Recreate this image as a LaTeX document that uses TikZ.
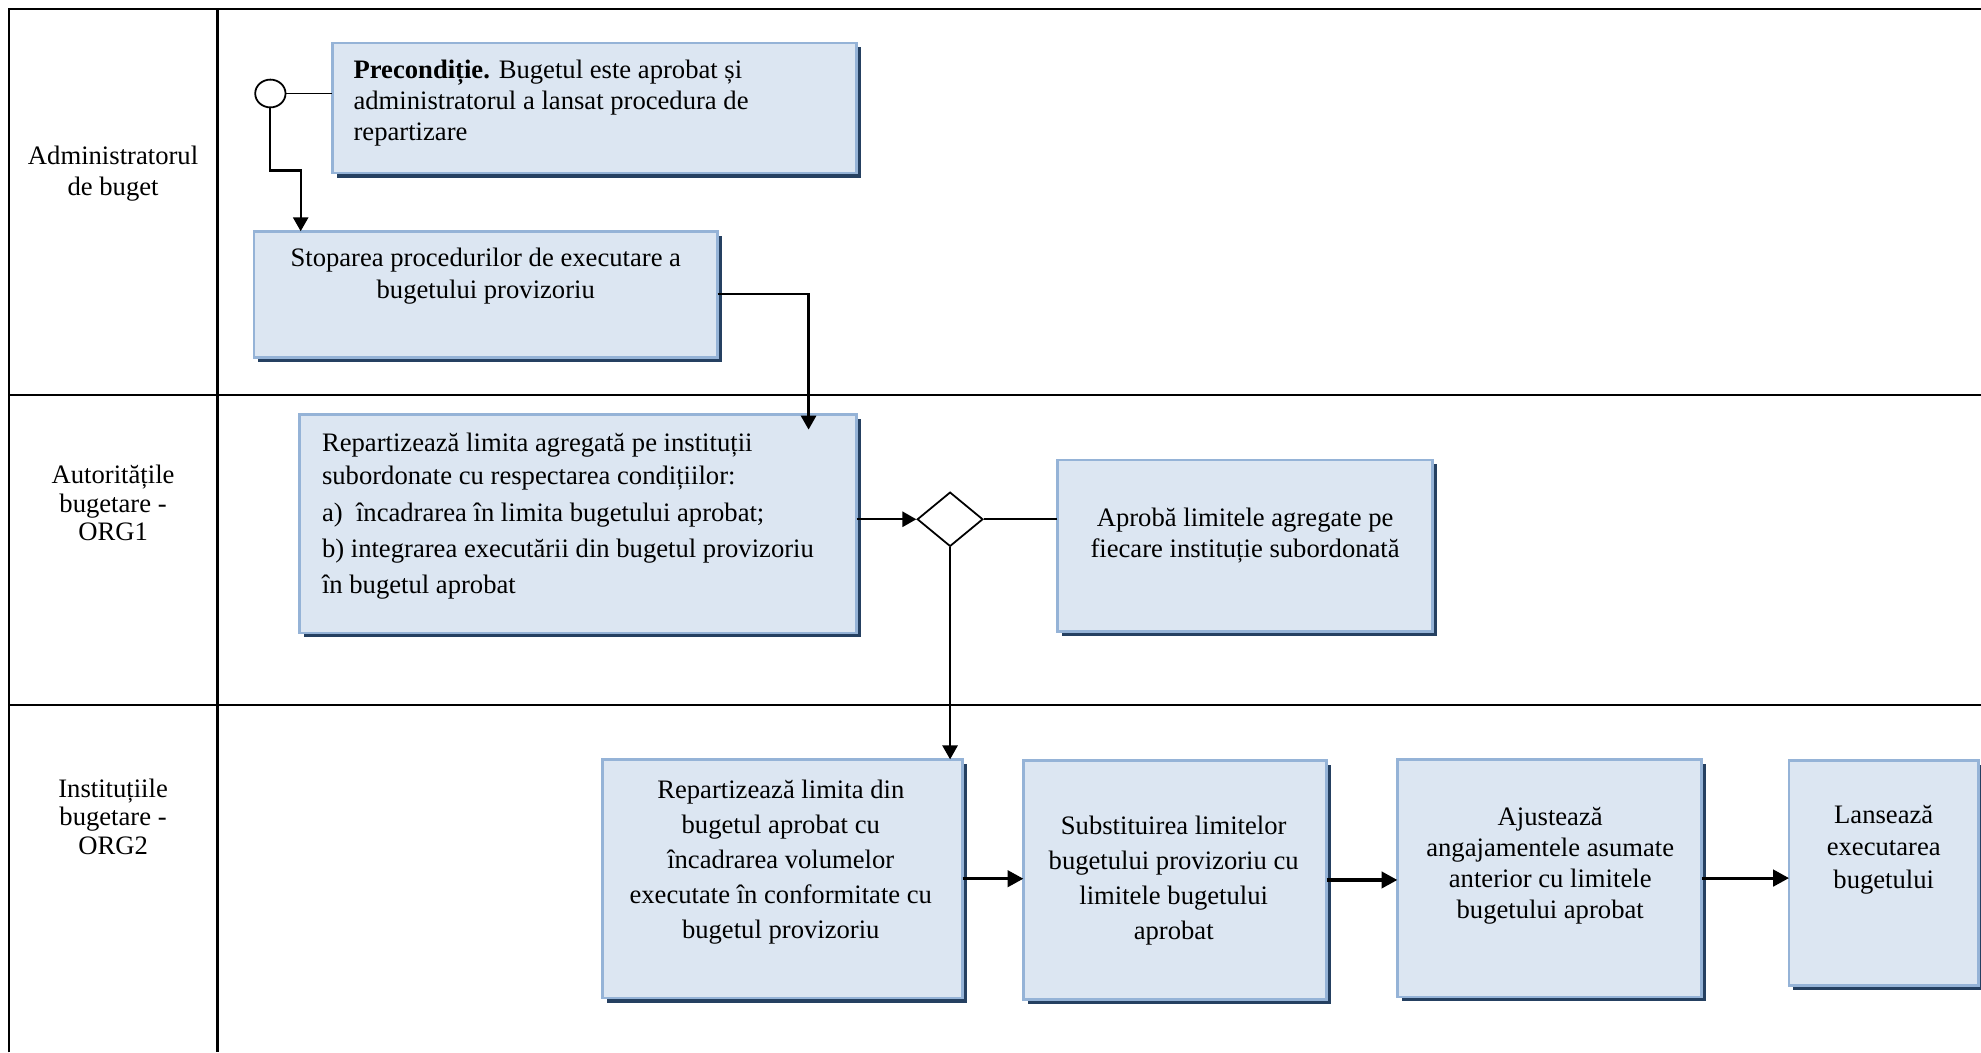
\documentclass[tikz,border=0pt]{standalone}
\usepackage{fontspec}
\setmainfont{Liberation Serif}
\usetikzlibrary{arrows.meta,shapes.geometric,shadows,positioning,calc}

\definecolor{boxfill}{HTML}{DCE6F2}
\definecolor{boxborder}{HTML}{95B3D7}
\definecolor{boxshadow}{HTML}{254061}
\newcommand{\unitpx}{0.02cm}

\begin{document}
\begin{tikzpicture}[
  x=0.02cm, y=-0.02cm,
  >={Triangle[length=0.22cm,width=0.24cm]},
  line width=1pt,
  lane/.style={line width=1.1pt},
  taskbox/.style={rectangle, draw=boxborder, line width=1.2pt, fill=boxfill, inner sep=0pt, outer sep=0pt,
    drop shadow={shadow xshift=0.07cm, shadow yshift=-0.07cm, fill=boxshadow, opacity=1}},
  tasktext/.style={inner sep=0pt, align=center},
  lanelabel/.style={inner sep=0pt, align=center, font=\fontsize{12}{12.8}\selectfont},
  gateway/.style={diamond, draw, line width=0.8pt, fill=white, inner sep=0pt, minimum width=52*\unitpx, minimum height=43*\unitpx},
  startevent/.style={ellipse, draw, line width=0.8pt, fill=white, inner sep=0pt, minimum width=24*\unitpx, minimum height=22*\unitpx},
  flow/.style={->, line width=1pt},
  bigflow/.style={-{Triangle[length=0.25cm,width=0.26cm]}, line width=1.4pt}
]
\useasboundingbox (0,0) rectangle (1568,833);

% swimlanes
\draw[lane] (7,833) -- (7,7) -- (1568,7);
\draw[lane] (172,7) -- (172,833);
\draw[lane] (7,312.5) -- (1568,312.5);
\draw[lane] (7,558) -- (1568,558);

\node[lanelabel, font=\fontsize{12}{14.2}\selectfont, anchor=base] (lbladm) at (89.5,155) {Administratorul\\de buget};
\node[lanelabel, anchor=base] (lblorg1) at (89.5,428) {Autoritățile\\bugetare -\\ORG1};
\node[lanelabel, anchor=base] (lblorg2) at (89.5,676) {Instituțiile\\bugetare -\\ORG2};

% lane 1
\node[taskbox, minimum width=415*\unitpx, minimum height=103*\unitpx] (precond) at (470.5,85.5) {};
\node[tasktext, align=left, font=\fontsize{12}{13.9}\selectfont, anchor=base west] (precondtxt) at (279,111)
  {\textbf{Precondiție.} Bugetul este aprobat și\\administratorul a lansat procedura de\\repartizare};
\node[startevent] (start) at (214,74) {};

\node[taskbox, minimum width=367*\unitpx, minimum height=100*\unitpx] (stop) at (384.5,233) {};
\node[tasktext, font=\fontsize{12}{14.2}\selectfont, anchor=base] (stoptxt) at (384.5,236)
  {Stoparea procedurilor de executare a\\bugetului provizoriu};

% lane 2
\node[taskbox, minimum width=441*\unitpx, minimum height=173*\unitpx] (distrib) at (457.5,414.5) {};
\node[tasktext, align=left, font=\fontsize{12}{14.7}\selectfont, anchor=base west] (distribtxt) at (254,470)
  {Repartizează limita agregată pe instituții\\subordonate cu respectarea condițiilor:\\[1.7pt]
   a)\ \ încadrarea în limita bugetului aprobat;\\[1.7pt]
   b) integrarea executării din bugetul provizoriu\\[1.7pt]
   în bugetul aprobat};

\node[gateway] (gate) at (752,411) {};

\node[taskbox, minimum width=297*\unitpx, minimum height=136*\unitpx] (approve) at (985.5,432) {};
\node[tasktext, font=\fontsize{12}{13.6}\selectfont, anchor=base] (approvetxt) at (985.5,441)
  {Aprobă limitele agregate pe\\fiecare instituție subordonată};

% lane 3
\node[taskbox, minimum width=285*\unitpx, minimum height=189*\unitpx] (redistrib) at (619.5,695.5) {};
\node[tasktext, font=\fontsize{12}{15.8}\selectfont, anchor=base] (redistribtxt) at (618,743)
  {Repartizează limita din\\bugetul aprobat cu\\încadrarea volumelor\\executate în conformitate cu\\bugetul provizoriu};

\node[taskbox, minimum width=240*\unitpx, minimum height=189*\unitpx] (substit) at (930,696.5) {};
\node[tasktext, font=\fontsize{12}{15.9}\selectfont, anchor=base] (substittxt) at (929,744)
  {Substituirea limitelor\\bugetului provizoriu cu\\limitele bugetului\\aprobat};

\node[taskbox, minimum width=241*\unitpx, minimum height=188*\unitpx] (adjust) at (1226.5,695) {};
\node[tasktext, font=\fontsize{12}{14}\selectfont, anchor=base] (adjusttxt) at (1227,727)
  {Ajustează\\angajamentele asumate\\anterior cu limitele\\bugetului aprobat};

\node[taskbox, minimum width=150*\unitpx, minimum height=178*\unitpx] (launch) at (1491,691) {};
\node[tasktext, font=\fontsize{12}{14.5}\selectfont, anchor=base] (launchtxt) at (1491,703)
  {Lansează\\executarea\\bugetului};

% connectors
\coordinate (bend1) at (238,135);
\draw[line width=0.6pt] (start.east) -- (start.east -| precond.west);
\draw[flow] (start.south) |- (bend1) -- (bend1 |- stop.north);
\draw[flow] (stop.east) -| ($(distrib.north west)+(403,12)$);
\draw[flow] (distrib.east |- gate.west) -- (gate.west);
\draw (gate.east) -- (gate.east -| approve.west);
\draw[flow] (gate.south) -- (gate.south |- redistrib.north);
\draw[bigflow] (redistrib.east) -- (redistrib.east -| substit.west);
\draw[bigflow] (substit.east) -- (substit.east -| adjust.west);
\draw[bigflow] (adjust.east) -- (adjust.east -| launch.west);

\end{tikzpicture}
\end{document}
